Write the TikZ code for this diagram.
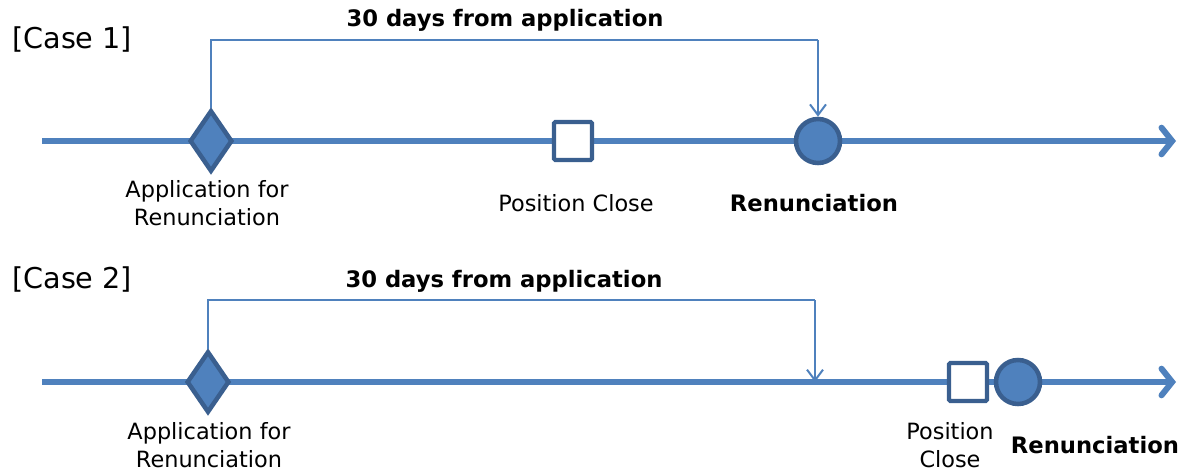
\documentclass[tikz,border=0pt]{standalone}
\usepackage{fontspec}
\setmainfont{DejaVu Sans}
\usepackage{tikz}
\usetikzlibrary{arrows.meta, positioning, shapes.geometric}
\definecolor{tline}{HTML}{4F81BD}
\definecolor{tborder}{HTML}{3A5F8F}
\tikzset{
  timeline/.style={tline, line width=4.5pt, -{Straight Barb[length=8pt, width=20pt, line cap=round]}},
  brk/.style={tline, line width=1.5pt},
  brkarr/.style={tline, line width=1.5pt, -{Straight Barb[length=8pt, width=12pt]}},
  appmark/.style={diamond, draw=tborder, fill=tline, line width=3.4pt, inner sep=0pt,
                  minimum width=32pt, minimum height=46pt},
  closemark/.style={rectangle, draw=tborder, fill=white, line width=3.2pt, inner sep=0pt,
                    minimum size=28.5pt, rounded corners=1pt},
  renmark/.style={circle, draw=tborder, fill=tline, line width=3.4pt, inner sep=0pt,
                  minimum size=33pt},
  lbl/.style={font=\fontsize{16.8}{21.5}\selectfont, align=center, inner sep=0pt},
  blbl/.style={font=\fontsize{17}{21.5}\selectfont\bfseries, inner sep=0pt},
  caselbl/.style={font=\fontsize{21.5}{24}\selectfont, anchor=west, inner sep=0pt},
}
\begin{document}
\begin{tikzpicture}[x=0.75pt, y=-0.75pt]
    \useasboundingbox (0,0) rectangle (1178,471);
    % case 1
    \node[caselbl] (case1) at (12,39) {[Case 1]};
    \coordinate (s1) at (42,141);
    \coordinate (e1) at (1176,141);
    \draw[timeline] (s1) -- (e1);
    \node[appmark] (app1) at (211,141) {};
    \node[closemark] (close1) at (573,141) {};
    \node[renmark] (ren1) at (818,141) {};
    \node[lbl] (applbl1) at (207,203) {Application for\\Renunciation};
    \node[lbl] (closelbl1) at (576,203) {Position Close};
    \node[blbl] (renlbl1) at (814,203) {Renunciation};
    \node[blbl] (days1) at (505,20) {30 days from application};
    \coordinate (top1) at (818,40);
    \draw[brk] (app1.north) |- (top1);
    \draw[brkarr] (top1) -- (ren1.north);

    % case 2
    \node[caselbl] (case2) at (12,279) {[Case 2]};
    \coordinate (s2) at (42,382);
    \coordinate (e2) at (1176,382);
    \draw[timeline] (s2) -- (e2);
    \node[appmark] (app2) at (208,382) {};
    \node[closemark] (close2) at (968,382) {};
    \node[renmark] (ren2) at (1018,382) {};
    \node[lbl] (applbl2) at (209,445) {Application for\\Renunciation};
    \node[lbl] (closelbl2) at (950,445) {Position\\Close};
    \node[blbl] (renlbl2) at (1095,445) {Renunciation};
    \node[blbl] (days2) at (504,281) {30 days from application};
    \coordinate (top2) at (815,300);
    \coordinate (end2) at (815,382);
    \draw[brk] (app2.north) |- (top2);
    \draw[brkarr] (top2) -- (end2);
\end{tikzpicture}
\end{document}
